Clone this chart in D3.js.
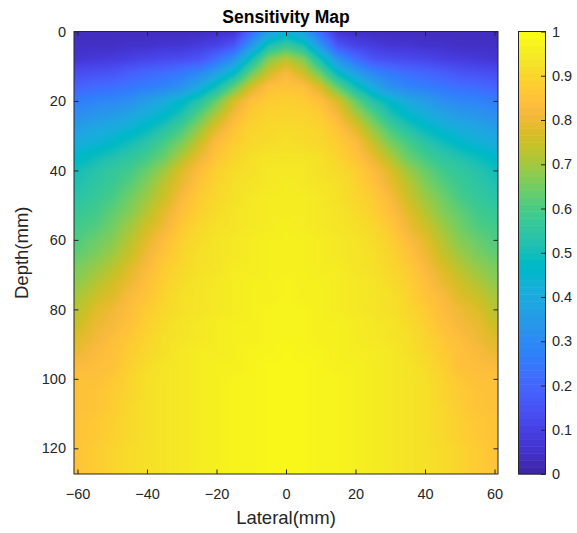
<!DOCTYPE html>
<html>
<head>
<meta charset="utf-8">
<script src="https://cdn.jsdelivr.net/npm/d3@7"></script>
<style>
  body { margin: 0; background: #fff; }
  svg { display: block; font-family: "Liberation Sans", Arial, sans-serif; }
</style>
</head>
<body>
<div id="chart"></div>
<script>
// Grid of the sensitivity map (lateral / depth in mm)
const lateral = [-60,-55,-50,-45,-40,-35,-30,-25,-20,-15,-10,-5,0,5,10,15,20,25,30,35,40,45,50,55,60];
const depth = [0,4,8,12,16,20,24,28,32,36,40,44,48,52,56,60,64,68,72,76,80,84,88,92,96,100,104,108,112,116,120,124,128];

// one row per depth, one value per lateral position
const sensitivity = [
  [.03,.03,.03,.03,.03,.03,.03,.03,.04,.05,.20,.36,.42,.36,.20,.05,.04,.03,.03,.03,.03,.03,.03,.03,.03],
  [.04,.04,.04,.05,.05,.06,.06,.08,.10,.15,.33,.51,.57,.51,.33,.15,.10,.08,.06,.06,.05,.05,.04,.04,.04],
  [.06,.07,.08,.09,.11,.12,.13,.15,.22,.32,.50,.67,.73,.67,.50,.32,.22,.15,.13,.12,.11,.09,.08,.07,.06],
  [.13,.14,.15,.18,.20,.22,.25,.29,.37,.47,.64,.76,.83,.76,.64,.47,.37,.29,.25,.22,.20,.18,.15,.14,.13],
  [.19,.21,.22,.24,.26,.28,.32,.40,.50,.63,.77,.85,.86,.85,.77,.63,.50,.40,.32,.28,.26,.24,.22,.21,.19],
  [.26,.28,.29,.31,.36,.40,.46,.53,.64,.77,.85,.88,.89,.88,.85,.77,.64,.53,.46,.40,.36,.31,.29,.28,.26],
  [.31,.33,.35,.38,.42,.46,.52,.62,.72,.82,.88,.90,.90,.90,.88,.82,.72,.62,.52,.46,.42,.38,.35,.33,.31],
  [.36,.39,.41,.44,.48,.53,.60,.69,.79,.86,.90,.91,.92,.91,.90,.86,.79,.69,.60,.53,.48,.44,.41,.39,.36],
  [.41,.43,.46,.50,.54,.60,.66,.75,.84,.88,.91,.92,.93,.92,.91,.88,.84,.75,.66,.60,.54,.50,.46,.43,.41],
  [.46,.49,.52,.55,.59,.64,.72,.80,.86,.90,.93,.94,.94,.94,.93,.90,.86,.80,.72,.64,.59,.55,.52,.49,.46],
  [.50,.53,.56,.59,.64,.70,.78,.84,.89,.92,.93,.95,.95,.95,.93,.92,.89,.84,.78,.70,.64,.59,.56,.53,.50],
  [.52,.55,.58,.62,.67,.74,.80,.86,.90,.93,.94,.95,.96,.95,.94,.93,.90,.86,.80,.74,.67,.62,.58,.55,.52],
  [.54,.57,.60,.65,.70,.76,.83,.88,.91,.93,.95,.96,.96,.96,.95,.93,.91,.88,.83,.76,.70,.65,.60,.57,.54],
  [.57,.59,.63,.67,.73,.79,.85,.89,.92,.94,.95,.96,.96,.96,.95,.94,.92,.89,.85,.79,.73,.67,.63,.59,.57],
  [.59,.61,.65,.70,.76,.81,.87,.91,.93,.94,.95,.96,.97,.96,.95,.94,.93,.91,.87,.81,.76,.70,.65,.61,.59],
  [.61,.64,.67,.73,.79,.84,.89,.92,.94,.95,.96,.97,.97,.97,.96,.95,.94,.92,.89,.84,.79,.73,.67,.64,.61],
  [.63,.66,.70,.75,.81,.86,.90,.93,.94,.95,.96,.97,.97,.97,.96,.95,.94,.93,.90,.86,.81,.75,.70,.66,.63],
  [.66,.69,.73,.78,.83,.88,.91,.93,.94,.96,.96,.97,.97,.97,.96,.96,.94,.93,.91,.88,.83,.78,.73,.69,.66],
  [.68,.72,.76,.80,.85,.89,.92,.94,.95,.96,.97,.97,.98,.97,.97,.96,.95,.94,.92,.89,.85,.80,.76,.72,.68],
  [.71,.75,.78,.83,.86,.90,.93,.94,.95,.96,.97,.97,.98,.97,.97,.96,.95,.94,.93,.90,.86,.83,.78,.75,.71],
  [.73,.78,.81,.84,.88,.91,.93,.94,.95,.96,.97,.98,.98,.98,.97,.96,.95,.94,.93,.91,.88,.84,.81,.78,.73],
  [.75,.80,.82,.85,.89,.92,.94,.95,.96,.97,.97,.98,.98,.98,.97,.97,.96,.95,.94,.92,.89,.85,.82,.80,.75],
  [.78,.81,.84,.87,.90,.93,.94,.95,.96,.97,.97,.98,.98,.98,.97,.97,.96,.95,.94,.93,.90,.87,.84,.81,.78],
  [.80,.83,.85,.88,.91,.93,.95,.96,.96,.97,.98,.98,.99,.98,.98,.97,.96,.96,.95,.93,.91,.88,.85,.83,.80],
  [.83,.84,.85,.89,.92,.94,.95,.96,.97,.97,.98,.99,.99,.99,.98,.97,.97,.96,.95,.94,.92,.89,.85,.84,.83],
  [.85,.85,.87,.90,.93,.94,.95,.96,.97,.98,.98,.99,.99,.99,.98,.98,.97,.96,.95,.94,.93,.90,.87,.85,.85],
  [.85,.86,.88,.90,.93,.94,.95,.96,.97,.98,.98,.99,.99,.99,.98,.98,.97,.96,.95,.94,.93,.90,.88,.86,.85],
  [.85,.86,.88,.91,.93,.94,.95,.96,.97,.98,.98,.99,.99,.99,.98,.98,.97,.96,.95,.94,.93,.91,.88,.86,.85],
  [.86,.87,.89,.91,.93,.94,.95,.96,.97,.98,.98,.99,.99,.99,.98,.98,.97,.96,.95,.94,.93,.91,.89,.87,.86],
  [.86,.87,.89,.91,.93,.94,.95,.96,.97,.98,.98,.99,.99,.99,.98,.98,.97,.96,.95,.94,.93,.91,.89,.87,.86],
  [.86,.88,.90,.92,.93,.94,.95,.96,.97,.98,.98,.99,.99,.99,.98,.98,.97,.96,.95,.94,.93,.92,.90,.88,.86],
  [.86,.88,.90,.92,.93,.94,.95,.96,.97,.98,.98,.99,.99,.99,.98,.98,.97,.96,.95,.94,.93,.92,.90,.88,.86],
  [.86,.88,.90,.92,.93,.94,.95,.96,.97,.98,.98,.99,.99,.99,.98,.98,.97,.96,.95,.94,.93,.92,.90,.88,.86]
];

// tick values
const xTicks = [-60, -40, -20, 0, 20, 40, 60];
const yTicks = [0, 20, 40, 60, 80, 100, 120];
const cTicks = [0, 0.1, 0.2, 0.3, 0.4, 0.5, 0.6, 0.7, 0.8, 0.9, 1];

// parula colormap (64 entries)
const parula = [
  [0.2422,0.1504,0.6603],[0.2504,0.1650,0.7076],[0.2578,0.1818,0.7511],[0.2647,0.1978,0.7952],
  [0.2706,0.2147,0.8364],[0.2751,0.2342,0.8710],[0.2783,0.2559,0.8991],[0.2803,0.2782,0.9221],
  [0.2813,0.3006,0.9414],[0.2810,0.3228,0.9579],[0.2795,0.3447,0.9717],[0.2760,0.3667,0.9829],
  [0.2699,0.3892,0.9906],[0.2602,0.4123,0.9952],[0.2440,0.4358,0.9988],[0.2206,0.4603,0.9973],
  [0.1963,0.4847,0.9892],[0.1834,0.5074,0.9798],[0.1786,0.5289,0.9682],[0.1764,0.5499,0.9520],
  [0.1687,0.5703,0.9359],[0.1540,0.5902,0.9218],[0.1460,0.6091,0.9079],[0.1380,0.6276,0.8973],
  [0.1248,0.6459,0.8883],[0.1113,0.6635,0.8763],[0.0952,0.6798,0.8598],[0.0689,0.6948,0.8394],
  [0.0297,0.7082,0.8163],[0.0036,0.7203,0.7917],[0.0067,0.7312,0.7660],[0.0433,0.7411,0.7394],
  [0.0964,0.7500,0.7120],[0.1408,0.7584,0.6842],[0.1717,0.7670,0.6554],[0.1938,0.7758,0.6251],
  [0.2161,0.7843,0.5923],[0.2470,0.7918,0.5567],[0.2906,0.7973,0.5188],[0.3406,0.8008,0.4789],
  [0.3909,0.8029,0.4354],[0.4456,0.8024,0.3909],[0.5044,0.7993,0.3480],[0.5616,0.7942,0.3045],
  [0.6174,0.7876,0.2612],[0.6720,0.7793,0.2227],[0.7242,0.7698,0.1910],[0.7738,0.7598,0.1646],
  [0.8203,0.7498,0.1535],[0.8634,0.7406,0.1596],[0.9035,0.7330,0.1774],[0.9393,0.7288,0.2100],
  [0.9728,0.7298,0.2394],[0.9956,0.7434,0.2371],[0.9970,0.7659,0.2199],[0.9952,0.7893,0.2028],
  [0.9892,0.8136,0.1885],[0.9786,0.8386,0.1766],[0.9676,0.8639,0.1643],[0.9610,0.8890,0.1537],
  [0.9597,0.9135,0.1423],[0.9628,0.9373,0.1265],[0.9691,0.9606,0.1064],[0.9769,0.9839,0.0805]
].map(c => d3.rgb(c[0] * 255, c[1] * 255, c[2] * 255).formatHex());

const W = 577, H = 533;
const plot = {left: 74, right: 498, top: 31.5, bottom: 474};
const bar = {left: 518.5, right: 545.5};
const axisColor = "#262626";

const svg = d3.select("#chart").append("svg")
  .attr("width", W)
  .attr("height", H);

svg.append("rect").attr("width", W).attr("height", H).attr("fill", "#fff");

// scales
const x = d3.scaleLinear().domain([-61, 61]).range([plot.left, plot.right]);
const y = d3.scaleLinear().domain([0, 127.4]).range([plot.top, plot.bottom]);
const colour = d3.scaleLinear()
  .domain(parula.map((c, i) => i / (parula.length - 1)))
  .range(parula)
  .clamp(true);
const cy = d3.scaleLinear().domain([0, 1]).range([plot.bottom, plot.top]);

// shaded heat map: values blended between grid nodes, then coloured (like shading interp)
function cellPos(arr, v) {
  let i = d3.bisectRight(arr, v) - 1;
  i = Math.max(0, Math.min(arr.length - 2, i));
  const t = Math.max(0, Math.min(1, (v - arr[i]) / (arr[i + 1] - arr[i])));
  return [i, t];
}

const cw = Math.round(plot.right - plot.left);
const ch = Math.round(plot.bottom - plot.top);
const cv = document.createElement("canvas");
cv.width = cw;
cv.height = ch;
const ctx = cv.getContext("2d");
const img = ctx.createImageData(cw, ch);
const lut = d3.range(1001).map(i => d3.rgb(colour(i / 1000)));
for (let r = 0; r < ch; r++) {
  const [i, ti] = cellPos(depth, y.invert(plot.top + (r + 0.5) * (plot.bottom - plot.top) / ch));
  for (let c = 0; c < cw; c++) {
    const [j, tj] = cellPos(lateral, x.invert(plot.left + (c + 0.5) * (plot.right - plot.left) / cw));
    const top = sensitivity[i][j] * (1 - tj) + sensitivity[i][j + 1] * tj;
    const bot = sensitivity[i + 1][j] * (1 - tj) + sensitivity[i + 1][j + 1] * tj;
    const v = top * (1 - ti) + bot * ti;
    const col = lut[Math.round(Math.max(0, Math.min(1, v)) * 1000)];
    const k = (r * cw + c) * 4;
    img.data[k] = col.r;
    img.data[k + 1] = col.g;
    img.data[k + 2] = col.b;
    img.data[k + 3] = 255;
  }
}
ctx.putImageData(img, 0, 0);

svg.append("image")
  .attr("href", cv.toDataURL())
  .attr("x", plot.left)
  .attr("y", plot.top)
  .attr("width", plot.right - plot.left)
  .attr("height", plot.bottom - plot.top)
  .attr("preserveAspectRatio", "none");

// axes (ticks on all four sides, pointing inward)
function styleAxis(g) {
  g.select(".domain").remove();
  g.selectAll("line").attr("stroke", axisColor);
  g.selectAll("text")
    .attr("fill", axisColor)
    .style("font-size", "14.5px")
    .style("font-family", "'Liberation Sans', Arial, sans-serif");
}

svg.append("g")
  .attr("transform", `translate(0,${plot.bottom})`)
  .call(d3.axisBottom(x).tickValues(xTicks).tickSizeInner(-4.5).tickSizeOuter(0).tickPadding(15))
  .call(styleAxis);

svg.append("g")
  .attr("transform", `translate(0,${plot.top})`)
  .call(d3.axisTop(x).tickValues(xTicks).tickSizeInner(-4.5).tickSizeOuter(0).tickFormat(""))
  .call(styleAxis);

svg.append("g")
  .attr("transform", `translate(${plot.left},0)`)
  .call(d3.axisLeft(y).tickValues(yTicks).tickSizeInner(-4.5).tickSizeOuter(0).tickPadding(8))
  .call(styleAxis);

svg.append("g")
  .attr("transform", `translate(${plot.right},0)`)
  .call(d3.axisRight(y).tickValues(yTicks).tickSizeInner(-4.5).tickSizeOuter(0).tickFormat(""))
  .call(styleAxis);

// plot box
svg.append("rect")
  .attr("x", plot.left).attr("y", plot.top)
  .attr("width", plot.right - plot.left)
  .attr("height", plot.bottom - plot.top)
  .attr("fill", "none")
  .attr("stroke", axisColor)
  .attr("stroke-width", 1);

// colorbar
const steps = parula.map((c, i) => i);
svg.append("g").selectAll("rect")
  .data(steps)
  .join("rect")
    .attr("x", bar.left)
    .attr("width", bar.right - bar.left)
    .attr("y", i => cy((i + 1) / parula.length))
    .attr("height", i => cy(i / parula.length) - cy((i + 1) / parula.length) + 0.5)
    .attr("fill", i => parula[i]);

svg.append("g")
  .attr("transform", `translate(${bar.right},0)`)
  .call(d3.axisRight(cy).tickValues(cTicks).tickSizeInner(-4.5).tickSizeOuter(0).tickPadding(6.5)
    .tickFormat(d3.format("~g")))
  .call(styleAxis);

svg.append("rect")
  .attr("x", bar.left).attr("y", plot.top)
  .attr("width", bar.right - bar.left)
  .attr("height", plot.bottom - plot.top)
  .attr("fill", "none")
  .attr("stroke", axisColor)
  .attr("stroke-width", 1);

// labels and title
svg.append("text")
  .attr("x", (plot.left + plot.right) / 2)
  .attr("y", 524)
  .attr("text-anchor", "middle")
  .attr("fill", axisColor)
  .style("font-size", "18.5px")
  .text("Lateral(mm)");

svg.append("text")
  .attr("transform", `translate(27.5,${(plot.top + plot.bottom) / 2}) rotate(-90)`)
  .attr("text-anchor", "middle")
  .attr("fill", axisColor)
  .style("font-size", "18.5px")
  .text("Depth(mm)");

svg.append("text")
  .attr("x", (plot.left + plot.right) / 2)
  .attr("y", 22.5)
  .attr("text-anchor", "middle")
  .attr("fill", "#000")
  .style("font-size", "17.5px")
  .style("font-weight", "bold")
  .text("Sensitivity Map");
</script>
</body>
</html>
